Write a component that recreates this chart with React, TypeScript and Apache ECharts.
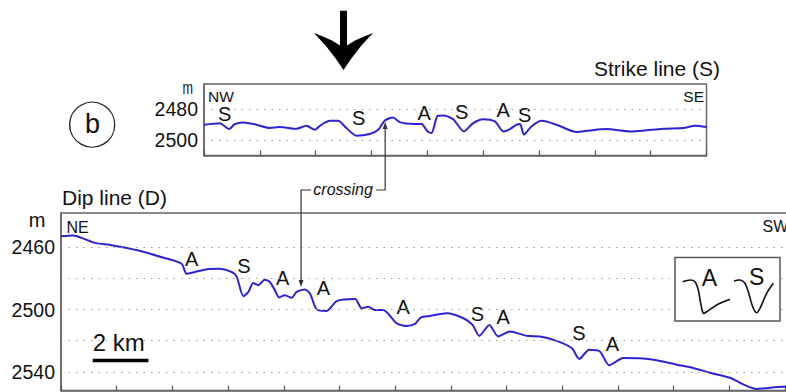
import React, { useEffect, useRef } from 'react';
import * as echarts from 'echarts';

// ---- Strike line (S), NW -> SE: distance (km) and depth (m)
const strikeKm = [0, 0.56, 0.9, 1.1, 1.4, 1.88, 2.35, 2.71, 3.31, 3.67, 3.97, 4.15, 4.51, 4.8, 5.1, 5.46, 5.94, 6.24, 6.48, 6.77, 7.01, 7.37, 7.79, 8.01, 8.15, 8.37, 8.57, 8.92, 9.04, 9.31, 9.64, 10.0, 10.42, 10.72, 10.96, 11.2, 11.32, 11.46, 11.73, 12.09, 12.63, 13.35, 13.82, 14.42, 15.26, 15.73, 16.45, 17.17, 17.59, 18.0];
const strikeDepth = [2490.2, 2489.2, 2493.0, 2489.8, 2488.7, 2490.2, 2492.3, 2491.7, 2492.8, 2490.9, 2493.4, 2490.9, 2487.7, 2487.7, 2492.3, 2497.3, 2496.2, 2493.4, 2487.5, 2485.5, 2488.5, 2489.6, 2489.8, 2494.5, 2495.5, 2484.5, 2484.3, 2486.6, 2489.2, 2494.5, 2489.2, 2486.6, 2488.1, 2494.5, 2493.0, 2490.2, 2489.8, 2496.6, 2491.3, 2487.7, 2490.2, 2494.9, 2493.9, 2493.0, 2494.5, 2494.0, 2492.8, 2492.3, 2490.9, 2491.7];
const strikeTickLabels = [2480, 2500];
const strikeGridLines = [2480, 2500];
const strikeMarkKm = [0.74, 5.54, 7.89, 9.23, 10.72, 11.49];
const strikeMarkDepth = [2483.4, 2485.8, 2482.6, 2481.7, 2480.6, 2483.8];
const strikeMarkText = ['S', 'S', 'A', 'S', 'A', 'S'];

// ---- Dip line (D), NE -> SW
const dipKm = [0, 0.44, 0.74, 1.22, 1.82, 2.78, 3.62, 4.33, 4.51, 4.81, 5.29, 5.65, 6.13, 6.31, 6.55, 6.73, 6.9, 7.08, 7.32, 7.5, 7.68, 7.83, 8.04, 8.28, 8.46, 8.76, 8.94, 9.18, 9.54, 9.9, 10.56, 10.8, 11.03, 11.27, 11.57, 12.05, 12.41, 12.71, 12.93, 13.25, 13.85, 14.45, 14.78, 15.02, 15.38, 15.7, 16.12, 16.72, 17.2, 17.8, 18.34, 18.61, 18.97, 19.35, 19.69, 20.19, 20.79, 21.39, 22.11, 22.7, 23.3, 24.02, 24.5, 24.98, 25.46, 25.94, 26.5];
const dipDepth = [2453, 2452.5, 2454, 2457.2, 2458.7, 2462.1, 2466.4, 2470.6, 2477, 2475.9, 2474, 2473.8, 2475.9, 2479, 2491.4, 2488.7, 2482.9, 2484.4, 2480.8, 2482.3, 2487.6, 2492.2, 2490.8, 2492.5, 2488.7, 2487.1, 2489.7, 2499.9, 2500.9, 2494.6, 2493.3, 2499.2, 2498.2, 2500.3, 2500.3, 2508.8, 2510.5, 2509.2, 2505, 2504.1, 2502.4, 2505.6, 2509.9, 2516.9, 2509.9, 2517.3, 2514.1, 2516.9, 2517.3, 2520.1, 2524.7, 2531.7, 2525.8, 2526.9, 2535.8, 2531.1, 2531.3, 2532.6, 2535.4, 2537.5, 2540.6, 2543.8, 2548.1, 2551.0, 2550.2, 2549.6, 2549.5];
const dipTickLabels = [2460, 2500, 2540];
const dipGridLines = [2460, 2480, 2500, 2520, 2540];
const dipMarkKm = [4.69, 6.57, 7.96, 9.42, 12.29, 14.95, 15.88, 18.6, 19.8];
const dipMarkDepth = [2467.4, 2472.3, 2479.5, 2486.1, 2498.6, 2502.9, 2504.6, 2515.2, 2522.2];
const dipMarkText = ['A', 'S', 'A', 'A', 'A', 'S', 'A', 'S', 'A'];

// crossing point on each profile (km, depth)
const crossingStrike = [6.49, 2488.5];
const crossingDip = [8.62, 2485.5];
// scale bar: start km, length km, depth level
const scaleBarKm = [1.14, 2];
const scaleBarDepth = 2532.8;

const FONT = '"Liberation Sans", Arial, Helvetica, sans-serif';
const BLUE = '#2e23d2';
const GRID_COLOR = '#666';
const INK = '#111';

function pairs(xs: number[], ys: number[]) {
  return xs.map((x, i) => [x, ys[i]]);
}

export default function App() {
  const ref = useRef<HTMLDivElement>(null);
  useEffect(() => {
    if (!ref.current) return;
    const chart = echarts.init(ref.current, undefined, { renderer: 'svg' });
    const xAxisBase = {
      type: 'value' as const,
      min: 0,
      interval: 2,
      axisLine: { show: true, lineStyle: { color: GRID_COLOR, width: 1.5 } },
      axisTick: { show: true, inside: true, length: 5, lineStyle: { color: '#555', width: 1.2 } },
      axisLabel: { show: false },
      splitLine: { show: false },
    };
    const yLabel = (ticks: number[]) => ({
      show: true,
      fontSize: 19.5,
      fontFamily: FONT,
      color: INK,
      margin: 6,
      formatter: (v: number) => (ticks.indexOf(Math.round(v)) >= 0 && Math.abs(v - Math.round(v)) < 1e-6 ? String(Math.round(v)) : ''),
    });
    const gridMarkLine = (vals: number[]) => ({
      silent: true,
      symbol: ['none', 'none'],
      label: { show: false },
      lineStyle: { color: '#9a9a9a', type: [1.5, 6], width: 1 },
      data: vals.map((v) => ({ yAxis: v })),
    });
    const letterSeries = (xi: number, ks: number[], ds: number[], ts: string[]) => ({
      type: 'scatter',
      xAxisIndex: xi,
      yAxisIndex: xi,
      data: ks.map((k, i) => ({ value: [k, ds[i]], name: ts[i] })),
      symbolSize: 0.01,
      itemStyle: { color: INK, opacity: 1 },
      label: {
        show: true, position: 'inside', formatter: '{b}', color: INK, fontSize: 20, fontFamily: FONT,
        textBorderWidth: 0, opacity: 1,
      },
      silent: true,
      z: 4,
    });
    chart.setOption({
      animation: false,
      backgroundColor: '#fff',
      grid: [
        { left: 204, top: 84, width: 502.5, height: 71.5, show: true, borderColor: GRID_COLOR, borderWidth: 1.5 },
        { left: 61, top: 213, width: 738, height: 177.5, show: true, borderColor: GRID_COLOR, borderWidth: 1.5 },
      ],
      xAxis: [
        { ...xAxisBase, gridIndex: 0, max: 18 },
        { ...xAxisBase, gridIndex: 1, max: 26.5 },
      ],
      yAxis: [
        {
          type: 'value', gridIndex: 0, inverse: true, min: 2464, max: 2510, interval: 4,
          axisLine: { show: true, lineStyle: { color: GRID_COLOR, width: 1.5 } },
          axisTick: { show: false }, splitLine: { show: false }, axisLabel: yLabel(strikeTickLabels),
        },
        {
          type: 'value', gridIndex: 1, inverse: true, min: 2438, max: 2552, interval: 2,
          axisLine: { show: true, lineStyle: { color: GRID_COLOR, width: 1.5 } },
          axisTick: { show: false }, splitLine: { show: false }, axisLabel: yLabel(dipTickLabels),
        },
      ],
      series: [
        {
          type: 'line', xAxisIndex: 0, yAxisIndex: 0, data: pairs(strikeKm, strikeDepth),
          symbol: 'none', smooth: 0.25, lineStyle: { color: BLUE, width: 2 }, z: 3,
          markLine: gridMarkLine(strikeGridLines),
        },
        {
          type: 'line', xAxisIndex: 1, yAxisIndex: 1, data: pairs(dipKm, dipDepth),
          symbol: 'none', smooth: 0.25, lineStyle: { color: BLUE, width: 2 }, z: 3,
          markLine: gridMarkLine(dipGridLines),
        },
        letterSeries(0, strikeMarkKm, strikeMarkDepth, strikeMarkText),
        letterSeries(1, dipMarkKm, dipMarkDepth, dipMarkText),
      ],
    });

    const top = chart.convertToPixel({ gridIndex: 0 }, crossingStrike) as number[];
    const bot = chart.convertToPixel({ gridIndex: 1 }, crossingDip) as number[];
    const sb0 = chart.convertToPixel({ gridIndex: 1 }, [scaleBarKm[0], scaleBarDepth]) as number[];
    const sb1 = chart.convertToPixel({ gridIndex: 1 }, [scaleBarKm[0] + scaleBarKm[1], scaleBarDepth]) as number[];
    const bracketY = 190;
    const midX = (top[0] + bot[0]) / 2;
    const txt = (text: string, x: number, y: number, size: number, align = 'left', extra: any = {}) => ({
      type: 'text', x, y, z: 20,
      style: { text, fill: INK, fontSize: size, fontFamily: FONT, align, verticalAlign: 'middle', ...extra },
    });
    const lineStyle = { stroke: '#333', lineWidth: 1.2, fill: 'none' };

    chart.setOption({
      graphic: [
        // big arrow
        {
          type: 'polygon', z: 20,
          shape: {
            points: [
              [343.5, 70], [336, 59], [326, 46], [314, 33], [323, 36.5], [332, 40.5], [340, 45.5],
              [340, 10.7], [347, 10.7], [347, 45.5], [355, 40.5], [364, 36.5], [373, 33], [361, 46], [351, 59],
            ],
          },
          style: { fill: '#000' },
        },
        // panel label b
        { type: 'circle', z: 20, shape: { cx: 92.2, cy: 124.7, r: 22.5 }, style: { stroke: '#222', lineWidth: 1.3, fill: 'none' } },
        txt('b', 92.5, 124, 27, 'center'),
        txt('Strike line (S)', 594, 68, 21),
        txt('Dip line (D)', 62, 197, 21),
        { ...txt('m', 187.7, 88, 18, 'center'), scaleX: 0.7 },
        txt('m', 37, 220, 20, 'center'),
        txt('NW', 208, 96, 15.5),
        txt('SE', 704, 96, 15.5, 'right'),
        txt('NE', 66.5, 227, 16),
        txt('SW', 762.5, 226, 16),
        // crossing connector
        { type: 'polyline', z: 20, shape: { points: [[bot[0], bot[1] - 3], [bot[0], bracketY], [bot[0] + 10, bracketY]] }, style: lineStyle },
        { type: 'polyline', z: 20, shape: { points: [[top[0] - 9, bracketY], [top[0], bracketY], [top[0], top[1] + 3]] }, style: lineStyle },
        { type: 'polygon', z: 20, shape: { points: [[top[0], top[1]], [top[0] - 2.5, top[1] + 7], [top[0] + 2.5, top[1] + 7]] }, style: { fill: '#333' } },
        { type: 'polygon', z: 20, shape: { points: [[bot[0], bot[1]], [bot[0] - 2.5, bot[1] - 7], [bot[0] + 2.5, bot[1] - 7]] }, style: { fill: '#333' } },
        txt('crossing', midX, bracketY - 1, 16, 'center', { fontStyle: 'italic' }),
        // scale bar
        { type: 'rect', z: 20, shape: { x: sb0[0], y: sb0[1] - 1.75, width: sb1[0] - sb0[0], height: 3.5 }, style: { fill: '#000' } },
        txt('2 km', sb0[0], 342, 24),
        // inset legend
        { type: 'rect', z: 20, shape: { x: 675, y: 257.5, width: 105, height: 63.5 }, style: { fill: '#fff', stroke: '#555', lineWidth: 1.5 } },
        {
          type: 'polyline', z: 21,
          shape: { smooth: 0.3, points: [[682.7, 281.7], [690, 280], [695, 281.7], [698.3, 290], [700.7, 303.3], [703.3, 313.3], [706.7, 311.7], [716.7, 305], [730, 299.3]] },
          style: { stroke: INK, lineWidth: 1.6, fill: 'none' },
        },
        {
          type: 'polyline', z: 21,
          shape: { smooth: 0.3, points: [[734, 281], [740, 280], [745, 283.3], [748.3, 291.7], [752.7, 306.7], [756.7, 312.7], [760, 308.3], [766.7, 293.3], [773.3, 283.3]] },
          style: { stroke: INK, lineWidth: 1.6, fill: 'none' },
        },
        { ...txt('A', 709.3, 277.5, 23, 'center'), z: 22 },
        { ...txt('S', 756.7, 276.5, 23, 'center'), z: 22 },
      ],
    });

    return () => chart.dispose();
  }, []);

  return (
    <div style={{ position: 'fixed', left: 0, top: 0, width: 786, height: 392, overflow: 'hidden', background: '#fff' }}>
      <div ref={ref} style={{ width: 806, height: 392 }} />
    </div>
  );
}
